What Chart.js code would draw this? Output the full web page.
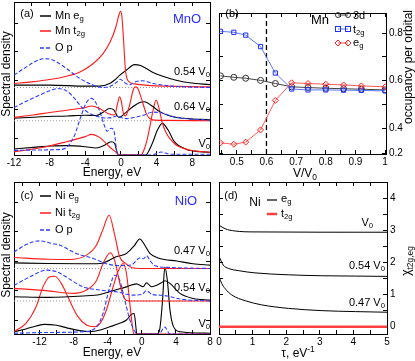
<!DOCTYPE html>
<html>
<head>
<meta charset="utf-8">
<script src="https://cdn.jsdelivr.net/npm/chart.js@4.4.1/dist/chart.umd.min.js"></script>
<style>
  html, body { margin: 0; padding: 0; background: #fff; }
  #page { position: relative; width: 415px; height: 361px; overflow: hidden; }
  canvas { position: absolute; left: 0; top: 0; }
  .t { position: absolute; font-family: "Liberation Sans", Arial, sans-serif; color: #000;
       white-space: nowrap; line-height: 1; transform: translate(-50%, -50%); }
  .r { transform: translate(-100%, -50%); }
  .l { transform: translate(0, -50%); }
  .rot { transform: translate(-50%, -50%) rotate(-90deg); }
  sub { font-size: 70%; vertical-align: -0.35em; line-height: 0; }
  sup { font-size: 70%; vertical-align: 0.6em; line-height: 0; }
  #marks { position: absolute; left: 0; top: 0; }
</style>
</head>
<body>
<div id="page">
  <canvas id="ca" width="415" height="361"></canvas>
  <canvas id="cb" width="415" height="361"></canvas>
  <canvas id="cc" width="415" height="361"></canvas>
  <canvas id="cd" width="415" height="361"></canvas>

  <svg id="marks" width="415" height="361">
    <!-- legend samples -->
    <line x1="40" y1="16" x2="51" y2="16" stroke="#000" stroke-width="1.5"/>
    <line x1="40" y1="31" x2="51" y2="31" stroke="#ff1a1a" stroke-width="1.5"/>
    <line x1="40" y1="48" x2="51" y2="48" stroke="#2a3cff" stroke-width="1.5" stroke-dasharray="4,2"/>
    <line x1="40" y1="196" x2="51" y2="196" stroke="#000" stroke-width="1.5"/>
    <line x1="40" y1="213" x2="51" y2="213" stroke="#ff1a1a" stroke-width="1.5"/>
    <line x1="40" y1="230" x2="51" y2="230" stroke="#2a3cff" stroke-width="1.5" stroke-dasharray="4,2"/>
    <line x1="338" y1="15" x2="348" y2="15" stroke="#444"/>
    <circle cx="338" cy="15" r="2.5" fill="none" stroke="#333"/>
    <circle cx="348" cy="15" r="2.5" fill="none" stroke="#333"/>
    <line x1="338" y1="29" x2="348" y2="29" stroke="#5a78ff"/>
    <rect x="335.5" y="26.5" width="5" height="5" fill="none" stroke="#2030ff"/>
    <rect x="345.5" y="26.5" width="5" height="5" fill="none" stroke="#2030ff"/>
    <line x1="338" y1="43" x2="348" y2="43" stroke="#ff5a5a"/>
    <path d="M338 40 L341 43 L338 46 L335 43 Z" fill="none" stroke="#ff2020"/>
    <path d="M348 40 L351 43 L348 46 L345 43 Z" fill="none" stroke="#ff2020"/>
    <line x1="267" y1="200" x2="277" y2="200" stroke="#000" stroke-width="1.2"/>
    <line x1="267" y1="214" x2="277" y2="214" stroke="#ff4040" stroke-width="2.5"/>
  </svg>

  <div class="t" style="left:27px;top:13px;font-size:11px">(a)</div>
  <div class="t l" style="left:55px;top:15px;font-size:11px">Mn e<sub>g</sub></div>
  <div class="t l" style="left:55px;top:30px;font-size:11px">Mn t<sub>2g</sub></div>
  <div class="t l" style="left:55px;top:47px;font-size:11px">O p</div>
  <div class="t" style="left:187px;top:18px;font-size:13px;color:#2b2bff">MnO</div>
  <div class="t r" style="left:210px;top:71px;font-size:11px">0.54 V<sub>0</sub></div>
  <div class="t r" style="left:210px;top:106px;font-size:11px">0.64 V<sub>0</sub></div>
  <div class="t r" style="left:210px;top:143px;font-size:11px">V<sub>0</sub></div>
  <div class="t rot" style="left:6px;top:74px;font-size:12px">Spectral density</div>
  <div class="t" style="left:112px;top:172px;font-size:12px">Energy, eV</div>

  <div class="t" style="left:232px;top:13px;font-size:11px">(b)</div>
  <div class="t" style="left:320px;top:19px;font-size:13px">Mn</div>
  <div class="t l" style="left:353px;top:15px;font-size:11px">3d</div>
  <div class="t l" style="left:353px;top:29px;font-size:11px">t<sub>2g</sub></div>
  <div class="t l" style="left:353px;top:42px;font-size:11px">e<sub>g</sub></div>
  <div class="t" style="left:305px;top:173px;font-size:12px">V/V<sub>0</sub></div>
  <div class="t rot" style="left:408px;top:67px;font-size:12px">occupancy per orbital</div>

  <div class="t" style="left:27px;top:195px;font-size:11px">(c)</div>
  <div class="t l" style="left:55px;top:195px;font-size:11px">Ni e<sub>g</sub></div>
  <div class="t l" style="left:55px;top:212px;font-size:11px">Ni t<sub>2g</sub></div>
  <div class="t l" style="left:55px;top:229px;font-size:11px">O p</div>
  <div class="t" style="left:186px;top:200px;font-size:13px;color:#2b2bff">NiO</div>
  <div class="t r" style="left:210px;top:250px;font-size:11px">0.47 V<sub>0</sub></div>
  <div class="t r" style="left:210px;top:287px;font-size:11px">0.54 V<sub>0</sub></div>
  <div class="t r" style="left:210px;top:323px;font-size:11px">V<sub>0</sub></div>
  <div class="t rot" style="left:6px;top:255px;font-size:12px">Spectral density</div>
  <div class="t" style="left:112px;top:352px;font-size:12px">Energy, eV</div>

  <div class="t" style="left:231px;top:195px;font-size:11px">(d)</div>
  <div class="t" style="left:255px;top:202px;font-size:12px">Ni</div>
  <div class="t l" style="left:281px;top:198px;font-size:11px">e<sub>g</sub></div>
  <div class="t l" style="left:281px;top:213px;font-size:11px">t<sub>2g</sub></div>
  <div class="t r" style="left:373px;top:222px;font-size:11px">V<sub>0</sub></div>
  <div class="t r" style="left:385px;top:265px;font-size:11px">0.54 V<sub>0</sub></div>
  <div class="t r" style="left:385px;top:302px;font-size:11px">0.47 V<sub>0</sub></div>
  <div class="t rot" style="left:406px;top:261px;font-size:12px">&chi;<sub>t2g,eg</sub></div>
  <div class="t" style="left:298px;top:353px;font-size:12px">&tau;, eV<sup>-1</sup></div>
</div>

<script>
// ---- panel (a): MnO spectral densities, [energy eV, density (offset)] ----
const mnEgV0 = [[-12,0.39],[-9.8,0.5],[-8,0.59],[-6.1,0.61],[-4,0.54],[-2.8,0.46],[-1.8,0.65],[-1.1,0.87],[-0.7,0.76],[-0.45,0.2],[-0.3,0],[2.8,0],[3.2,0.35],[3.6,0.87],[4.1,1.63],[4.65,2.07],[5.3,1.63],[6.0,0.87],[7.3,0.38],[8.8,0.22],[10,0.18]];
const mnT2gV0 = [[-12,0.22],[-10,0.38],[-8.4,0.54],[-6.1,0.87],[-4.0,1.2],[-3.3,1.35],[-2.4,1.15],[-1.3,0.54],[-0.5,0.15],[-0.2,0],[2.2,0],[2.5,0.2],[2.9,0.9],[3.3,2.0],[3.6,2.9],[3.96,3.59],[4.3,3.0],[4.6,2.2],[5.07,1.45],[5.6,1.0],[6.2,0.65],[7.7,0.33],[10,0.18]];
const mnOpV0 = [[-12,0.3],[-9,0.33],[-7,0.35],[-6,0.55],[-5.2,1.3],[-4.5,2.5],[-3.9,3.4],[-3.3,3.7],[-2.8,3.4],[-2.4,2.9],[-1.9,2.0],[-1.55,1.55],[-1.1,1.75],[-0.75,1.5],[-0.55,0.6],[-0.4,0],[3.5,0],[4.5,0.2],[5.5,0.05],[10,0.05]];
const mnEg064 = [[-12,2.4],[-9,2.5],[-6,2.55],[-4,2.6],[-2.8,2.58],[-2.0,2.8],[-1.27,3.04],[-0.8,2.95],[-0.4,2.55],[-0.15,2.46],[0.4,2.7],[1.34,3.15],[2.0,3.4],[2.65,3.48],[3.5,3.2],[4.3,2.85],[5.5,2.55],[7,2.4],[10,2.3]];
const mnT2g064 = [[-12,2.46],[-9.85,2.61],[-8,2.78],[-6.1,2.93],[-4,3.11],[-3.3,3.2],[-2.4,3.04],[-1.45,2.72],[-0.7,2.61],[-0.4,3.3],[-0.15,3.8],[0.05,3.5],[0.25,2.8],[0.5,2.55],[0.95,3.2],[1.35,4.2],[1.6,4.45],[1.9,4.35],[2.3,3.7],[2.84,2.72],[3.2,2.4],[3.8,2.28],[5,2.26],[10,2.24]];
const mnOp064 = [[-12,3.1],[-10.5,3.55],[-9,3.95],[-8,4.2],[-7.05,4.35],[-6,4.15],[-5.2,3.7],[-4.44,3.15],[-3.6,2.75],[-2.8,2.55],[-1.8,2.42],[-1,2.45],[-0.5,2.55],[0,2.45],[0.6,2.38],[1.5,2.45],[2.5,2.6],[3.6,2.8],[4.6,2.75],[5.6,2.55],[7,2.4],[10,2.28]];
const mnEg054 = [[-12,4.57],[-8,4.57],[-4,4.5],[-2.4,4.5],[-1.27,4.67],[-0.7,4.9],[-0.15,5.2],[0.6,5.54],[1.53,5.91],[2.2,5.85],[2.84,5.65],[3.6,5.4],[4.7,5.15],[6.2,4.89],[7.7,4.72],[10,4.6]];
const mnT2g054 = [[-12,4.67],[-10,4.78],[-8,4.93],[-6.1,5.15],[-4.6,5.43],[-3.1,5.98],[-2.0,6.63],[-1.2,7.4],[-0.6,8.3],[-0.2,9.2],[-0.05,9.4],[0.1,9.1],[0.3,7.5],[0.5,5.6],[0.8,4.85],[1.5,4.65],[3,4.55],[10,4.45]];
const mnOp054 = [[-12,5.22],[-10.6,5.76],[-9.5,6.15],[-8.5,6.3],[-7.6,6.2],[-6.1,5.65],[-4.6,5.0],[-3.1,4.57],[-2.0,4.41],[-0.9,4.57],[-0.4,4.8],[-0.1,4.95],[0.2,4.85],[0.6,4.65],[1.0,4.6],[1.7,4.8],[2.46,4.85],[3.6,4.67],[5.8,4.5],[10,4.41]];
const mnBaselines = [2.24, 4.41];
const mnXTicks = [-12,-10,-8,-6,-4,-2,0,2,4,6,8,10];
const mnXLabels = ['-12','','-8','','-4','','0','','4','','8',''];
const mnYTicks = [1.1,2.98,4.86,6.74,8.62];

// ---- panel (b): Mn occupancies ----
const vRatio = [0.445,0.49,0.53,0.58,0.63,0.685,0.74,0.80,0.86,0.92,1.0];
const occ3d  = [0.620,0.614,0.610,0.601,0.588,0.574,0.571,0.568,0.566,0.564,0.561];
const occT2g = [0.807,0.803,0.791,0.743,0.632,0.565,0.561,0.561,0.560,0.559,0.557];
const occEg  = [0.339,0.333,0.342,0.393,0.517,0.591,0.588,0.585,0.582,0.578,0.574];
const vMarker = 0.6;
const bXTicks = [0.45,0.5,0.55,0.6,0.65,0.7,0.75,0.8,0.85,0.9,0.95,1.0];
const bXLabels = ['','0.5','','0.6','','0.7','','0.8','','0.9','','1'];
const bYTicks = [0.295,0.4,0.5,0.6,0.7,0.8];
const bYLabels = ['0.2','0.4','','0.6','','0.8'];

// ---- panel (c): NiO spectral densities ----
const niEgV0 = [[-15,0.15],[-13.6,0.33],[-12.4,0.53],[-11.4,0.63],[-10.2,0.59],[-8.9,0.42],[-7.3,0.22],[-6.1,0.15],[-4.9,0.26],[-3.76,0.48],[-2.6,0.7],[-1.8,0.92],[-1.2,1.3],[-0.9,1.35],[-0.7,0.48],[-0.6,0],[1.8,0],[2.1,0.3],[2.43,2.2],[2.7,4.4],[3.0,3.5],[3.3,1.6],[3.7,0.5],[4.5,0.15],[8,0.05]];
const niT2gV0 = [[-15,0.15],[-13.6,0.7],[-12.4,1.8],[-11.6,3.1],[-10.8,3.76],[-10.2,3.8],[-9.45,3.33],[-8.5,2.23],[-7.5,1.14],[-6.5,0.59],[-5.5,0.48],[-4.9,0.7],[-4.16,1.58],[-3.37,3.11],[-2.8,4.09],[-2.2,4.64],[-1.8,3.98],[-1.41,2.0],[-1.1,0.48],[-0.94,0],[8,0]];
const niOpV0 = [[-15,0.05],[-11,0.1],[-6.9,0.15],[-5.3,0.48],[-4.55,1.36],[-3.76,3.1],[-3.18,3.87],[-2.6,3.54],[-2.0,2.23],[-1.4,0.92],[-0.8,0.15],[-0.6,0],[2.0,0],[2.7,0.45],[3.3,0],[8,0]];
const niEg054 = [[-15,2.45],[-11,2.41],[-6.9,2.5],[-4.9,2.6],[-3.37,2.85],[-1.8,3.1],[-0.63,3.3],[0.16,3.11],[0.55,3.37],[1.14,3.11],[2.3,3.37],[2.7,3.5],[3.3,3.33],[4.47,2.67],[6.04,2.34],[8,2.23]];
const niT2g054 = [[-15,3.0],[-11,2.84],[-8,2.67],[-6.5,2.89],[-5.3,3.54],[-4.55,4.64],[-3.7,5.35],[-3.2,4.86],[-2.8,3.9],[-2.4,2.9],[-2.0,2.3],[-1.5,2.17],[8,2.17]];
const niOp054 = [[-15,3.2],[-13,3.8],[-11.2,4.2],[-10,4.1],[-8.9,3.76],[-6.9,3.1],[-4.9,2.89],[-3.0,2.78],[-1.0,2.56],[0,2.6],[0.55,2.85],[1.2,2.6],[2.2,2.55],[3.0,2.5],[4.5,2.3],[8,2.17]];
const niEg047 = [[-15,4.68],[-11,4.64],[-7,4.62],[-4.9,4.64],[-3,5.08],[-1.8,5.3],[-0.9,5.8],[-0.24,6.25],[0.35,5.84],[0.94,5.3],[2.1,4.97],[4.1,4.8],[6,4.62],[8,4.53]];
const niT2g047 = [[-15,5.03],[-11,4.92],[-8.5,4.9],[-6.5,5.19],[-5.33,5.84],[-4.55,6.9],[-3.84,7.81],[-3.18,6.5],[-2.6,5.08],[-1.8,4.6],[-1.2,4.38],[0,4.31],[8,4.31]];
const niOp047 = [[-15,5.4],[-13.5,5.9],[-12,6.13],[-10.5,5.95],[-9.6,5.84],[-7.7,5.3],[-5.7,4.97],[-4,4.6],[-2.5,4.5],[-1.2,4.55],[-0.24,5.0],[0.2,4.95],[0.55,5.15],[1.0,4.8],[1.5,4.5],[3,4.38],[8,4.31]];
const niBaselines = [2.17, 4.31];
const niXTicks = [-14,-12,-10,-8,-6,-4,-2,0,2,4,6,8];
const niXLabels = ['','-12','','-8','','-4','','0','','4','','8'];
const niYTicks = [0.92,2.86,4.8,6.74,8.68];

// ---- panel (d): Ni susceptibility vs tau ----
const chiV0  = [[0,3.17],[0.18,3.06],[0.47,2.99],[1.07,2.96],[5,2.95]];
const chi054 = [[0,2.2],[0.13,1.92],[0.28,1.82],[0.58,1.75],[1.07,1.68],[2.06,1.62],[3.06,1.59],[4.06,1.58],[5,1.57]];
const chi047 = [[0,1.56],[0.08,1.35],[0.18,1.19],[0.38,0.99],[0.78,0.81],[1.27,0.68],[2.07,0.57],[3.06,0.50],[4.06,0.47],[5,0.45]];
const chiT2g = [[0,0],[5,0]];
const dXTicks = [0,0.5,1,1.5,2,2.5,3,3.5,4,4.5,5];
const dXLabels = ['0','','1','','2','','3','','4','','5'];
const dYTicks = [0,0.5,1,1.5,2,2.5,3,3.5,4];
const dYLabels = ['0','','1','','2','','3','','4'];

const FONT = '"Liberation Sans", Arial, sans-serif';
const RED = '#ff1a1a', BLUE = '#2a3cff', BLACK = '#000';

const pts = arr => arr.map(p => ({ x: p[0], y: p[1] }));

// axis with inward ticks; size = space the axis box takes outside the plot area
function axis(position, min, max, tickVals, labels, size) {
    const horizontal = position === 'top' || position === 'bottom';
    return {
        type: 'linear', position, min, max,
        boxSize: size || 0,
        afterFit: s => { if (horizontal) s.height = size || 0; else s.width = size || 0; },
        afterBuildTicks: s => { s.ticks = tickVals.map(v => ({ value: v })); },
        ticks: {
            display: !!labels,
            autoSkip: false, maxRotation: 0,
            padding: horizontal ? 6 : 7,
            font: { family: FONT, size: 10 }, color: '#000',
            callback: (v, i) => labels ? labels[i] : ''
        },
        grid: { drawOnChartArea: false, drawTicks: true, tickLength: -4, tickColor: '#000', tickWidth: 1 },
        border: { display: true, color: '#000', width: 1 }
    };
}

function curve(data, color, dash, width) {
    return {
        data: pts(data), borderColor: color, borderWidth: width || 1.1,
        borderDash: dash || [], pointRadius: 0, fill: false,
        cubicInterpolationMode: 'monotone', xAxisID: 'x', yAxisID: 'y'
    };
}

function baseline(y, x0, x1) {
    return {
        data: [{ x: x0, y }, { x: x1, y }], borderColor: '#999', borderWidth: 1,
        borderDash: [1, 2], pointRadius: 0, fill: false, xAxisID: 'x', yAxisID: 'y'
    };
}

function panel(id, area, scales, datasets) {
    const side = pos => Object.values(scales).filter(s => s.position === pos)
        .reduce((a, s) => a + s.boxSize, 0);
    return new Chart(document.getElementById(id), {
        type: 'line',
        data: { datasets },
        options: {
            responsive: false, animation: false, devicePixelRatio: 1,
            layout: { padding: {
                left: area[0] - side('left'), top: area[1] - side('top'),
                right: 415 - area[2] - side('right'), bottom: 361 - area[3] - side('bottom')
            } },
            plugins: { legend: { display: false }, tooltip: { enabled: false } },
            scales
        }
    });
}

// (a)
panel('ca', [14, 2, 210, 155], {
    x: axis('bottom', -12, 10, mnXTicks, mnXLabels, 16),
    x2: axis('top', -12, 10, mnXTicks, null),
    y: axis('left', 0, 10, mnYTicks, null),
    y2: axis('right', 0, 10, mnYTicks, null)
}, [
    curve(mnOp054, BLUE, [4, 2]), curve(mnT2g054, RED), curve(mnEg054, BLACK),
    curve(mnOp064, BLUE, [4, 2]), curve(mnT2g064, RED), curve(mnEg064, BLACK),
    curve(mnOpV0, BLUE, [4, 2]), curve(mnT2gV0, RED), curve(mnEgV0, BLACK),
    ...mnBaselines.map(b => baseline(b, -12, 10))
]);

// (b)
const lineB = (ys, color, pColor, style) => ({
    data: vRatio.map((v, i) => ({ x: v, y: ys[i] })),
    borderColor: color, borderWidth: 1, pointStyle: style, pointRadius: 3,
    pointBorderColor: pColor, pointBackgroundColor: 'rgba(255,255,255,0)', pointBorderWidth: 1,
    xAxisID: 'x', yAxisID: 'y'
});
panel('cb', [219, 1, 386, 154], {
    x: axis('bottom', 0.44, 1.003, bXTicks, bXLabels, 16),
    x2: axis('top', 0.44, 1.003, bXTicks, null),
    y: axis('left', 0.292, 0.884, bYTicks, null),
    y2: axis('right', 0.292, 0.884, bYTicks, bYLabels, 20)
}, [
    lineB(occEg, '#ff5a5a', '#ff2020', 'rectRot'),
    lineB(occT2g, '#5a78ff', '#2030ff', 'rect'),
    lineB(occ3d, '#444', '#333', 'circle'),
    { data: [{ x: vMarker, y: 0.292 }, { x: vMarker, y: 0.884 }], borderColor: '#000', borderWidth: 1.3,
      borderDash: [5, 3], pointRadius: 0, xAxisID: 'x', yAxisID: 'y' }
]);

// (c)
panel('cc', [14, 182, 210, 334], {
    x: axis('bottom', -15, 8, niXTicks, niXLabels, 16),
    x2: axis('top', -15, 8, niXTicks, null),
    y: axis('left', 0, 10, niYTicks, null),
    y2: axis('right', 0, 10, niYTicks, null)
}, [
    curve(niOp047, BLUE, [4, 2]), curve(niT2g047, RED), curve(niEg047, BLACK),
    curve(niOp054, BLUE, [4, 2]), curve(niT2g054, RED), curve(niEg054, BLACK),
    curve(niOpV0, BLUE, [4, 2]), curve(niT2gV0, RED), curve(niEgV0, BLACK),
    ...niBaselines.map(b => baseline(b, -15, 8))
]);

// (d)
panel('cd', [219, 182, 387, 334], {
    x: axis('bottom', 0, 5, dXTicks, dXLabels, 16),
    x2: axis('top', 0, 5, dXTicks, null),
    y: axis('left', -0.23, 4.52, dYTicks, null),
    y2: axis('right', -0.23, 4.52, dYTicks, dYLabels, 20)
}, [
    curve(chiV0, BLACK, null, 1), curve(chi054, BLACK, null, 1), curve(chi047, BLACK, null, 1),
    curve(chiT2g, '#ff4040', null, 2.5)
]);
</script>
</body>
</html>
